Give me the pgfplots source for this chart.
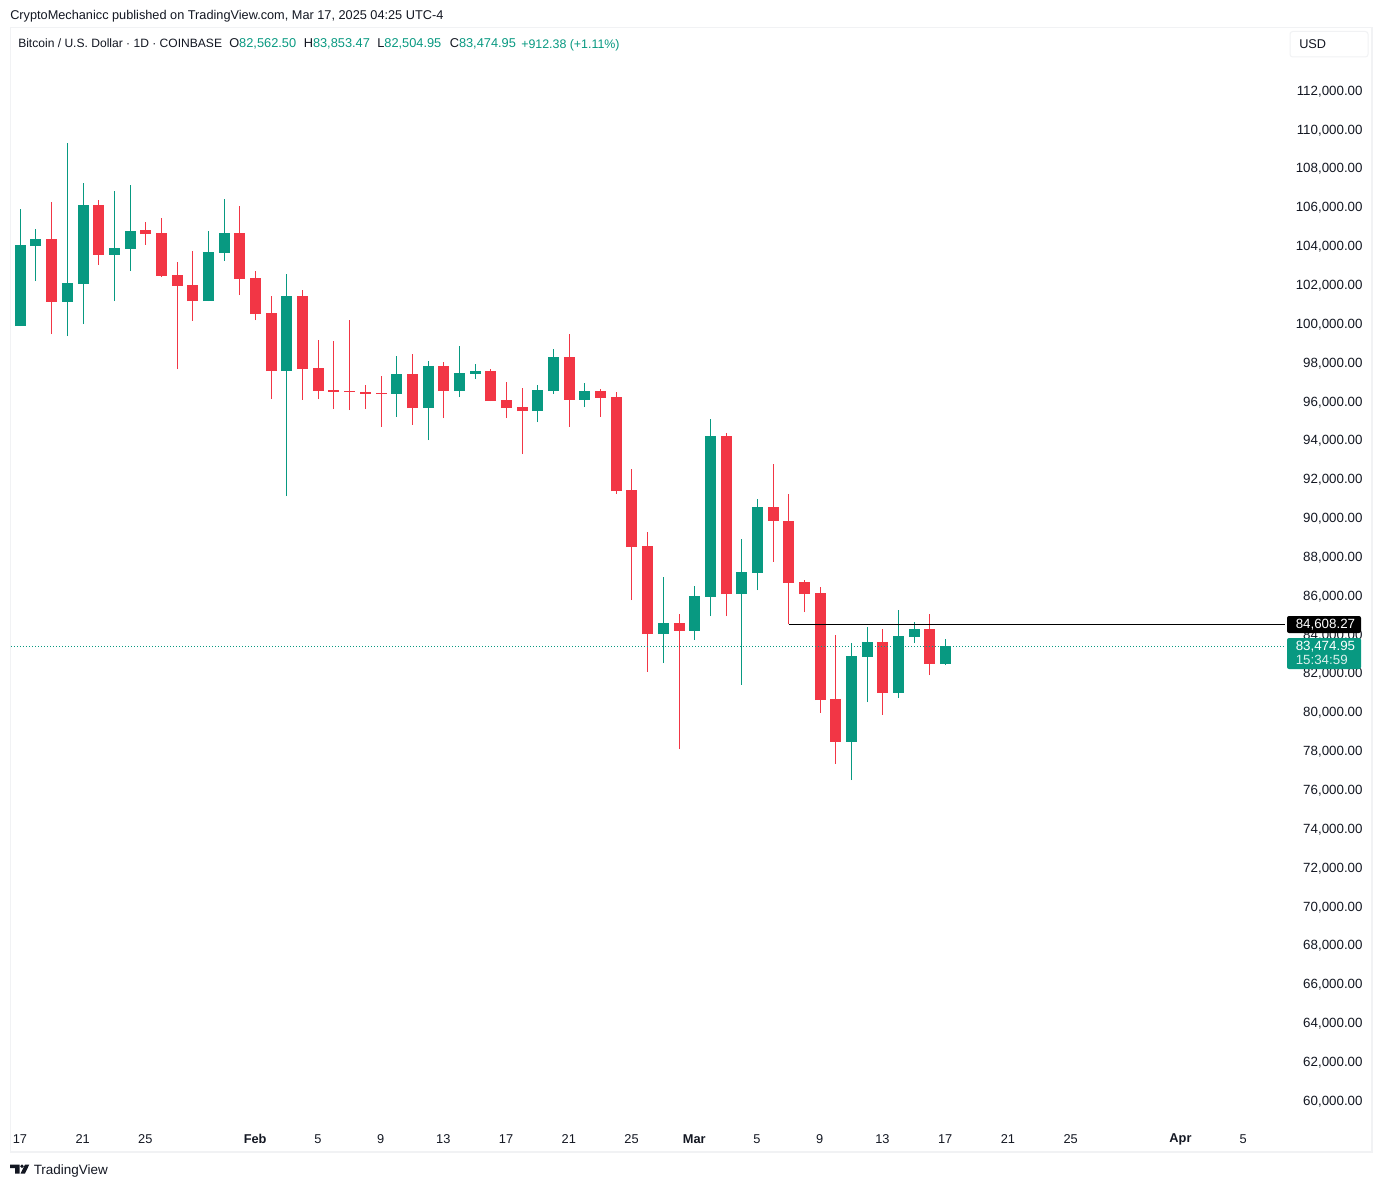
\documentclass[border=0pt]{standalone}
\usepackage{pgfplots}
\usepackage{pgfplotstable}
\usepackage{fontspec}
\setmainfont{Liberation Sans}
\pgfplotsset{compat=1.18}
\definecolor{tvgreen}{HTML}{089981}
\definecolor{tvred}{HTML}{F23645}
\definecolor{tvtext}{HTML}{131722}
\definecolor{tvframe}{HTML}{F1F2F4}
\pgfplotstableread{
x o h l c
0 99967 105991 99967 104138
1 104086 104962 102284 104447
3 101203 109390 99452 102181
4 102130 107330 100070 106197
6 103623 106918 101254 103983
7 103932 107227 102799 104859
12 101254 104859 101254 103777
13 103726 106506 103314 104756
17 97650 102645 91214 101512
24 96466 98422 95282 97496
26 95745 98165 94097 97908
28 96620 98937 96311 97547
29 97496 98010 97238 97650
33 95590 96929 95024 96672
34 96620 98783 96466 98371
36 96157 97032 95796 96620
41 84108 87043 82615 84675
43 84263 86580 83800 86065
44 86014 95179 85035 94303
46 86168 89000 81483 87301
47 87249 91059 86374 90648
53 78548 83645 76591 82976
54 82924 84469 80607 83697
56 81071 85344 80813 84005
57 83954 84726 83645 84366
59 82562.5 83853.47 82504.95 83474.95
}\greendata
\pgfplotstableread{
x o h l c
2 104447 106352 99555 101203
5 106197 106455 103108 103623
8 104910 105322 104138 104704
9 104756 105528 102490 102542
10 102593 103262 97753 102027
11 102078 103829 100225 101254
14 104756 106146 101563 102387
15 102439 102799 100276 100585
16 100637 101512 96208 97650
18 101512 101821 96157 97753
19 97805 99246 96208 96620
20 96672 99195 95693 96569
21 96620 100276 95642 96569
22 96569 96929 95693 96466
23 96517 97393 94767 96466
25 97496 98525 94870 95745
27 97908 98113 95230 96620
30 97650 97753 96105 96105
31 96157 97084 95230 95745
32 95796 96775 93376 95590
35 98371 99555 94767 96157
37 96620 96723 95282 96260
38 96311 96569 91317 91471
39 91523 92604 85859 88588
40 88640 89360 82152 84108
42 84675 85138 78187 84263
45 94303 94458 85035 86168
48 90648 92862 87816 89927
49 89927 91317 84606 86734
50 86786 86889 85241 86168
51 86220 86528 80041 80710
52 80762 84057 77415 78548
55 83697 84366 79938 81071
58 84366 85138 81997 82564
}\reddata
\pgfplotsset{
  wick/.style={draw=none,mark=none,forget plot,
    error bars/.cd,y dir=plus,y explicit,error mark=none,
    error bar style={line width=0.75pt,color=#1}},
  body/.style={draw=none,mark=none,forget plot,
    error bars/.cd,y dir=plus,y explicit,error mark=none,
    error bar style={line width=8.25pt,color=#1}}
}
\begin{document}
\begin{tikzpicture}
\path[use as bounding box,fill=white] (0,0) rectangle (1036.5pt,-890.25pt);
\begin{scope}[x=0.75pt,y=-0.75pt]
\draw[tvframe,line width=1.1pt] (10.5,27.5) rectangle (1372,1152);
\end{scope}
\begin{axis}[
  at={(8.25pt,-843.75pt)},anchor=south west,
  scale only axis,width=955.5pt,height=821.25pt,
  xmin=-0.593,xmax=80.64,ymin=58827,ymax=115208,
  axis line style={draw=none},
  tick style={draw=none},major tick length=0pt,
  xtick={0,4,8,15,19,23,27,31,35,39,43,47,51,55,59,63,67,74,78},
  xticklabels={17,21,25,\textbf{Feb},5,9,13,17,21,25,\textbf{Mar},5,9,13,17,21,25,\textbf{Apr},5},
  ytick={60000,62000,...,112000},
  scaled y ticks=false,
  yticklabel pos=right,
  yticklabel style={/pgf/number format/fixed,/pgf/number format/fixed zerofill,/pgf/number format/precision=2,/pgf/number format/1000 sep={,},/pgf/number format/assume math mode=true,font=\fontsize{10pt}{11pt}\selectfont,text=tvtext,anchor=east,xshift=61.7pt,yshift=0.6pt},
  xticklabel style={font=\fontsize{9.6pt}{11pt}\selectfont,text=tvtext,anchor=center,yshift=-10.6pt,xshift=-0.3pt},
  clip=true,
]
\addplot[wick=tvgreen] table[x=x,y=l,y error plus expr=\thisrow{h}-\thisrow{l}] {\greendata};
\addplot[wick=tvred] table[x=x,y=l,y error plus expr=\thisrow{h}-\thisrow{l}] {\reddata};
\addplot[body=tvgreen] table[x=x,y=o,y error plus expr=\thisrow{c}-\thisrow{o}] {\greendata};
\addplot[body=tvred] table[x=x,y=c,y error plus expr=\thisrow{o}-\thisrow{c}] {\reddata};
\addplot[black,line width=0.85pt,forget plot] coordinates {(49,84608.27)(80.64,84608.27)};
\addplot[tvgreen,line width=0.75pt,dash pattern=on 0.75pt off 1.5pt,forget plot] coordinates {(-0.593,83474.95)(80.64,83474.95)};
\end{axis}
\begin{scope}[x=0.75pt,y=-0.75pt,every node/.style={inner sep=0pt,anchor=west,font=\fontsize{9.55pt}{11pt}\selectfont,text=tvtext}]
\node at (10,16.3) {CryptoMechanicc published on TradingView.com, Mar 17, 2025 04:25 UTC-4};
\node[font=\fontsize{9.05pt}{11pt}\selectfont] at (18,43) {Bitcoin / U.S. Dollar · 1D · COINBASE};
\node[font=\fontsize{9.6pt}{11pt}\selectfont] at (229,44) {O\textcolor{tvgreen}{82,562.50}};
\node[font=\fontsize{9.6pt}{11pt}\selectfont] at (303.5,44) {H\textcolor{tvgreen}{83,853.47}};
\node[font=\fontsize{9.6pt}{11pt}\selectfont] at (377,44) {L\textcolor{tvgreen}{82,504.95}};
\node[font=\fontsize{9.6pt}{11pt}\selectfont] at (449.5,44) {C\textcolor{tvgreen}{83,474.95}};
\node[text=tvgreen,font=\fontsize{9.3pt}{11pt}\selectfont] at (521,44.8) {+912.38 (+1.11\%)};
\draw[tvframe,line width=0.75pt,rounded corners=2pt] (1290,31.5) rectangle (1368,57);
\node at (1299,44) {USD};
\fill[black,rounded corners=1.5pt] (1287,616) rectangle (1361,633);
\node[text=white,font=\fontsize{10pt}{11pt}\selectfont] at (1295.5,624.6) {84,608.27};
\fill[tvgreen,rounded corners=1.5pt] (1287,638) rectangle (1361,669);
\node[text=white,font=\fontsize{10pt}{11pt}\selectfont] at (1295.5,646.3) {83,474.95};
\node[text=white,opacity=.85,font=\fontsize{10pt}{11pt}\selectfont] at (1295.5,660) {15:34:59};
% TradingView logo
\fill[tvtext] (10,1164.5) -- (19.5,1164.5) -- (19.5,1173.5) -- (15,1173.5) -- (15,1168) -- (10,1168) -- cycle;
\fill[tvtext] (22,1166.3) circle (1.9);
\fill[tvtext] (25,1164.5) -- (29.3,1164.5) -- (25,1173.5) -- (20.5,1173.5) -- cycle;
\node[font=\fontsize{10.1pt}{12pt}\selectfont] at (33.5,1171) {TradingView};
\end{scope}
\end{tikzpicture}
\end{document}
